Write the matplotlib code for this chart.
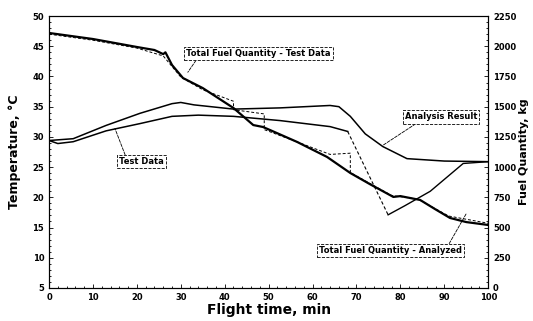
import matplotlib
matplotlib.use('Agg')
import matplotlib.pyplot as plt
from matplotlib.ticker import MultipleLocator

# temperature, analysis result (degC)
t_analysis = [0, 5.5, 13, 20.7, 28, 30, 33, 42, 52.6, 64, 66, 68.6, 72, 76, 81.5, 90, 100]
temp_analysis = [29.4, 29.7, 31.9, 33.9, 35.5, 35.7, 35.3, 34.6, 34.8, 35.2, 35.0, 33.4, 30.5, 28.4, 26.4, 26.0, 25.9]

# temperature, test data (degC)
t_test = [0, 2, 5.5, 13, 20.7, 28, 34, 42, 52.6, 64, 68, 77.2, 81, 86.8, 94.3, 100]
temp_test = [29.4, 28.9, 29.2, 31.0, 32.2, 33.4, 33.6, 33.4, 32.7, 31.7, 30.9, 17.1, 18.6, 21.0, 25.6, 25.9]

# total fuel quantity, test data (kg)
t_fuel = [0, 5, 10, 15, 20, 24, 26, 26.5, 28, 30.5, 35, 42, 46.5, 48.7, 50.3, 56.5, 63.3, 68.6, 73, 78.4, 80, 84.5, 88, 91.3, 95, 100]
fuel_test = [2110, 2085, 2060, 2027, 1994, 1969, 1935, 1950, 1845, 1737, 1654, 1489, 1348, 1332, 1307, 1208, 1084, 951, 860, 753, 760, 728, 650, 579, 545, 521]

# total fuel quantity, analyzed (kg)
t_fuel_an = [0, 10, 20, 26, 30, 35, 42, 42, 49, 49, 56, 64, 68.6, 68.6, 78, 84, 91, 100]
fuel_an = [2100, 2050, 1985, 1920, 1745, 1640, 1545, 1475, 1440, 1310, 1215, 1105, 1115, 955, 765, 735, 595, 535]

fig = plt.figure(figsize=(5.33, 3.21), dpi=100)
ax = fig.add_axes([0.092, 0.103, 0.824, 0.847])
ax2 = ax.twinx()

ax.plot(t_analysis, temp_analysis, 'k-', lw=1.1)
ax.plot(t_test[:11], temp_test[:11], 'k-', lw=1.1)
ax.plot(t_test[10:12], temp_test[10:12], 'k--', lw=0.8, dashes=(3, 2))
ax.plot(t_test[11:], temp_test[11:], 'k-', lw=1.0)
ax2.plot(t_fuel, fuel_test, 'k-', lw=1.6)
ax2.plot(t_fuel_an, fuel_an, 'k--', lw=0.7, dashes=(3, 2))

ax.set_xlim(0, 100)
ax.set_ylim(5, 50)
ax2.set_ylim(0, 2250)
ax.xaxis.set_major_locator(MultipleLocator(10))
ax.yaxis.set_major_locator(MultipleLocator(5))
ax2.yaxis.set_major_locator(MultipleLocator(250))
ax.xaxis.set_minor_locator(MultipleLocator(2))
ax.yaxis.set_minor_locator(MultipleLocator(1))
ax2.yaxis.set_minor_locator(MultipleLocator(50))

for a in (ax, ax2):
    a.tick_params(which='both', direction='in', labelsize=6, width=0.6)
    a.tick_params(which='major', length=3)
    a.tick_params(which='minor', length=1.5)
    for lab in a.get_xticklabels() + a.get_yticklabels():
        lab.set_fontweight('bold')
    for s in a.spines.values():
        s.set_linewidth(0.8)
ax.tick_params(axis='y', right=False)
ax.tick_params(axis='x', top=False)

ax.set_xlabel('Flight time, min', fontsize=10, fontweight='bold', labelpad=1)
ax.set_ylabel('Temperature, \u00b0C', fontsize=9, fontweight='bold', labelpad=8)
ax2.set_ylabel('Fuel Quantity, kg', fontsize=8, fontweight='bold', labelpad=2)

box = dict(boxstyle='square,pad=0.25', fc='white', ec='black', lw=0.6, ls='--')


def leader(rx, ry):
    return dict(arrowstyle='-', color='black', lw=0.6, ls='--', relpos=(rx, ry),
                shrinkA=0, shrinkB=0)


ax.annotate('Total Fuel Quantity - Test Data', xy=(31.6, 40.7), xytext=(31.2, 43.8),
            fontsize=6, fontweight='bold', bbox=box, arrowprops=leader(0.08, 0.0),
            va='center', ha='left')
ax.annotate('Analysis Result', xy=(76, 28.6), xytext=(81, 33.3),
            fontsize=6, fontweight='bold', bbox=box, arrowprops=leader(0.2, 0.0),
            va='center', ha='left')
ax.annotate('Test Data', xy=(15, 31.4), xytext=(16, 25.9),
            fontsize=6, fontweight='bold', bbox=box, arrowprops=leader(0.15, 1.0),
            va='center', ha='left')
ax.annotate('Total Fuel Quantity - Analyzed', xy=(95, 17.3), xytext=(61.5, 11.2),
            fontsize=6, fontweight='bold', bbox=box, arrowprops=leader(0.9, 1.0),
            va='center', ha='left')

fig.savefig('out.png', dpi=100)
